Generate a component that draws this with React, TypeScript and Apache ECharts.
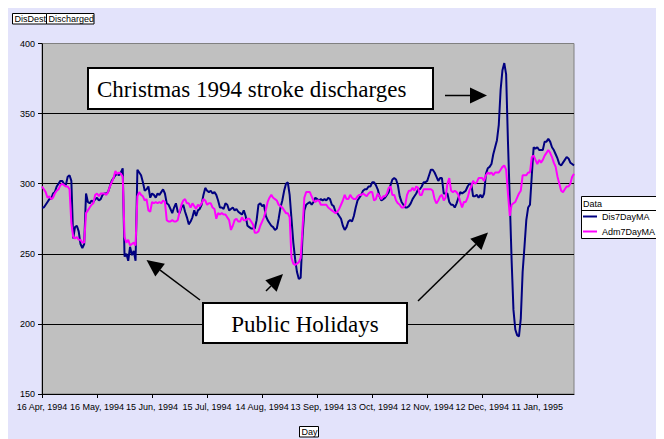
import React, { useEffect, useRef } from "react";
import * as echarts from "echarts";

const START_DATE = Date.UTC(1994, 3, 16);
const MONTHS = ["Jan", "Feb", "Mar", "Apr", "May", "Jun", "Jul", "Aug", "Sep", "Oct", "Nov", "Dec"];
const TICK_EVERY = 30;
const Y_MIN = 150;
const Y_MAX = 400;
const Y_STEP = 50;

const dis7DayMA = [
  283, 283, 285, 287, 289, 289, 293, 294, 298, 300,
  302, 302, 300, 299, 305, 306, 302, 261, 269, 270,
  266, 257, 254, 257, 293, 287, 286, 288, 287, 289,
  290, 288, 289, 292, 293, 293, 294, 298, 302, 304,
  306, 307, 306, 308, 311, 248, 250, 245, 255, 249,
  252, 245, 310, 308, 306, 301, 295, 296, 298, 290,
  293, 292, 290, 293, 292, 294, 296, 293, 286, 285,
  282, 279, 283, 286, 280, 279, 283, 285, 280, 276,
  271, 273, 276, 281, 277, 281, 282, 285, 292, 297,
  295, 294, 295, 293, 294, 292, 288, 283, 283, 282,
  286, 285, 281, 282, 283, 281, 282, 280, 279, 278,
  281, 277, 270, 269, 268, 268, 268, 274, 285, 286,
  284, 285, 277, 274, 272, 270, 269, 267, 268, 275,
  283, 288, 295, 300, 301, 292, 275, 258, 246, 237,
  232, 233, 262, 281, 285, 286, 287, 285, 287, 290,
  289, 288, 289, 288, 289, 288, 290, 289, 285, 284,
  280, 279, 277, 275, 270, 267, 269, 273, 274, 273,
  277, 283, 288, 290, 292, 295, 296, 296, 298, 298,
  301, 301, 299, 296, 291, 288, 289, 290, 292, 294,
  299, 303, 304, 303, 299, 291, 287, 285, 283, 283,
  284, 286, 289, 291, 293, 296, 296, 298, 301, 301,
  302, 306, 310, 310, 308, 305, 302, 304, 304, 293,
  293, 293, 287, 285, 285, 283, 286, 290, 294, 293,
  294, 295, 298, 300, 300, 291, 291, 292, 290, 292,
  290, 293, 307, 311, 312, 314, 321, 326, 331, 342,
  367, 381, 386, 378, 330, 288, 245, 210, 196, 192,
  191, 204, 237, 255, 274, 283, 285, 306, 326, 325,
  326, 324, 324, 324, 330, 330, 332, 330, 326, 324,
  321, 318, 314, 313, 315, 317, 319, 318, 315, 314, 313,
];

const adm7DayMA = [
  298, 296, 294, 290, 291, 289, 290, 293, 295, 296,
  299, 300, 299, 298, 298, 296, 272, 262, 261, 262,
  260, 260, 258, 258, 279, 281, 283, 285, 286, 292,
  293, 291, 293, 293, 293, 292, 294, 298, 301, 304,
  309, 307, 308, 307, 305, 262, 258, 260, 256, 257,
  258, 256, 291, 294, 292, 291, 288, 289, 281, 280,
  287, 286, 287, 286, 287, 286, 288, 287, 274, 273,
  273, 274, 273, 273, 274, 280, 285, 288, 289, 286,
  286, 283, 286, 284, 282, 285, 284, 286, 289, 288,
  285, 286, 286, 283, 282, 275, 279, 278, 279, 278,
  278, 276, 274, 267, 270, 274, 275, 273, 273, 276,
  274, 274, 275, 275, 273, 271, 265, 265, 266, 270,
  273, 276, 281, 287, 290, 292, 290, 289, 288, 285,
  284, 283, 281, 279, 279, 276, 247, 243, 242, 243,
  244, 247, 268, 290, 294, 294, 294, 291, 288, 287,
  288, 288, 285, 285, 285, 285, 283, 282, 281, 280,
  279, 280, 282, 285, 288, 292, 289, 289, 292, 290,
  289, 289, 291, 292, 292, 293, 292, 291, 293, 294,
  294, 288, 289, 293, 291, 289, 291, 291, 293, 297,
  298, 292, 292, 288, 286, 285, 283, 283, 285, 292,
  295, 295, 297, 295, 298, 297, 292, 292, 296, 296,
  296, 296, 296, 295, 289, 286, 288, 291, 292, 288,
  290, 300, 304, 295, 294, 295, 294, 292, 287, 283,
  287, 287, 290, 295, 298, 302, 300, 301, 304, 304,
  304, 302, 306, 308, 307, 308, 306, 308, 308, 308,
  310, 312, 313, 310, 293, 277, 285, 286, 287, 290,
  293, 295, 306, 306, 306, 308, 308, 319, 320, 317,
  314, 317, 315, 317, 320, 322, 324, 322, 319, 315,
  312, 305, 300, 295, 294, 296, 298, 298, 300, 305, 307,
];

const seriesNames = ["Dis7DayMA", "Adm7DayMA"];
const seriesColors = ["#000080", "#FF00FF"];

const dayLabels = dis7DayMA.map((_, i) => {
  const d = new Date(START_DATE + i * 86400000);
  return `${d.getUTCDate()} ${MONTHS[d.getUTCMonth()]}, ${d.getUTCFullYear()}`;
});

const SANS = "'Liberation Sans', Arial, sans-serif";
const SERIF = "'Liberation Serif', 'Times New Roman', serif";

function arrow(x1: number, y1: number, x2: number, y2: number) {
  const len = Math.hypot(x2 - x1, y2 - y1);
  const ux = (x2 - x1) / len;
  const uy = (y2 - y1) / len;
  const hl = 17;
  const hw = 8;
  const bx = x2 - ux * hl;
  const by = y2 - uy * hl;
  return [
    {
      type: "line",
      shape: { x1, y1, x2: bx, y2: by },
      style: { stroke: "#000", lineWidth: 1.5 },
      z: 100,
    },
    {
      type: "polygon",
      shape: {
        points: [
          [x2, y2],
          [bx - uy * hw, by + ux * hw],
          [bx + uy * hw, by - ux * hw],
        ],
      },
      style: { fill: "#000" },
      z: 100,
    },
  ];
}

function labelBox(x: number, y: number, w: number, h: number, text: string, fontSize: number) {
  return [
    {
      type: "rect",
      shape: { x, y, width: w, height: h },
      style: { fill: "#fff", stroke: "#000", lineWidth: 1 },
      z: 100,
    },
    {
      type: "text",
      x: x + 2,
      y: y + h / 2 + 0.5,
      style: {
        text,
        fill: "#000",
        font: `${fontSize}px ${SANS}`,
        textAlign: "left",
        textVerticalAlign: "middle",
        align: "left",
        verticalAlign: "middle",
      },
      z: 101,
    },
  ];
}

export default function App() {
  const ref = useRef<HTMLDivElement>(null);

  useEffect(() => {
    if (!ref.current) return;
    const chart = echarts.init(ref.current, undefined, { renderer: "svg" });
    const showTick = (i: number) => i % TICK_EVERY === 0;

    const graphic: any[] = [
      ...labelBox(4.5, 6.5, 34, 10.5, "DisDest", 9),
      ...labelBox(38.5, 6.5, 47.5, 10.5, "Discharged", 9),
      ...labelBox(291.5, 419.5, 19, 10.5, "Day", 9),
      // grey top border of the plot area
      {
        type: "line",
        shape: { x1: 34.5, y1: 36.5, x2: 566, y2: 36.5 },
        style: { stroke: "#808080", lineWidth: 1 },
        z: 50,
      },
      // legend frame
      {
        type: "rect",
        shape: { x: 573.5, y: 189.5, width: 77, height: 42 },
        style: { fill: "#fff", stroke: "#000", lineWidth: 1 },
        z: 90,
      },
      {
        type: "line",
        shape: { x1: 573.5, y1: 203.5, x2: 650.5, y2: 203.5 },
        style: { stroke: "#000", lineWidth: 1 },
        z: 91,
      },
      {
        type: "text",
        x: 575,
        y: 197,
        style: {
          text: "Data",
          fill: "#000",
          font: `9px ${SANS}`,
          textAlign: "left",
          textVerticalAlign: "middle",
          align: "left",
          verticalAlign: "middle",
        },
        z: 91,
      },
      // Christmas annotation
      {
        type: "rect",
        shape: { x: 80, y: 61, width: 345, height: 41 },
        style: { fill: "#fff", stroke: "#000", lineWidth: 2 },
        z: 100,
      },
      {
        type: "text",
        x: 89,
        y: 82,
        style: {
          text: "Christmas 1994 stroke discharges",
          fill: "#000",
          font: `23px ${SERIF}`,
          textAlign: "left",
          textVerticalAlign: "middle",
          align: "left",
          verticalAlign: "middle",
        },
        z: 101,
      },
      ...arrow(437, 88.5, 479, 88.5),
      // Public holidays annotation
      {
        type: "rect",
        shape: { x: 195, y: 296, width: 204, height: 40 },
        style: { fill: "#fff", stroke: "#000", lineWidth: 2 },
        z: 100,
      },
      {
        type: "text",
        x: 297,
        y: 317,
        style: {
          text: "Public Holidays",
          fill: "#000",
          font: `23px ${SERIF}`,
          textAlign: "center",
          textVerticalAlign: "middle",
          align: "center",
          verticalAlign: "middle",
        },
        z: 101,
      },
      ...arrow(192, 293, 138.5, 253),
      ...arrow(258, 284, 275, 267),
      ...arrow(410, 294, 480, 225.5),
    ];

    chart.setOption({
      animation: false,
      backgroundColor: "transparent",
      grid: {
        left: 34,
        top: 36.5,
        right: 90,
        bottom: 45,
        show: true,
        backgroundColor: "#C0C0C0",
        borderColor: "#808080",
        borderWidth: 1,
      },
      legend: {
        data: seriesNames,
        orient: "vertical",
        left: 575,
        top: 204,
        itemWidth: 14,
        itemHeight: 2,
        itemGap: 4,
        icon: "rect",
        padding: 0,
        selectedMode: false,
        textStyle: { fontSize: 9, fontFamily: SANS, color: "#000", lineHeight: 11 },
        z: 95,
      },
      xAxis: {
        type: "category",
        data: dayLabels,
        boundaryGap: false,
        axisLine: { show: true, lineStyle: { color: "#000", width: 1 } },
        axisTick: { show: true, interval: showTick, length: 4, lineStyle: { color: "#000" } },
        axisLabel: {
          interval: showTick,
          fontSize: 9,
          fontFamily: SANS,
          color: "#000",
          margin: 8,
        },
        splitLine: { show: false },
      },
      yAxis: {
        type: "value",
        min: Y_MIN,
        max: Y_MAX,
        interval: Y_STEP,
        axisLine: { show: true, lineStyle: { color: "#000", width: 1 } },
        axisTick: { show: true, length: 4, lineStyle: { color: "#000" } },
        axisLabel: { fontSize: 9, fontFamily: SANS, color: "#000", margin: 7 },
        splitLine: { show: true, lineStyle: { color: "#000", width: 1 } },
      },
      series: [
        {
          name: seriesNames[0],
          type: "line",
          data: dis7DayMA,
          symbol: "none",
          color: seriesColors[0],
          lineStyle: { color: seriesColors[0], width: 2 },
          z: 3,
        },
        {
          name: seriesNames[1],
          type: "line",
          data: adm7DayMA,
          symbol: "none",
          color: seriesColors[1],
          lineStyle: { color: seriesColors[1], width: 2 },
          z: 4,
        },
      ],
      graphic,
    });
    return () => chart.dispose();
  }, []);

  return (
    <div
      ref={ref}
      style={{ width: 656, height: 432, marginTop: -1, background: "#E3E3FB" }}
    />
  );
}
